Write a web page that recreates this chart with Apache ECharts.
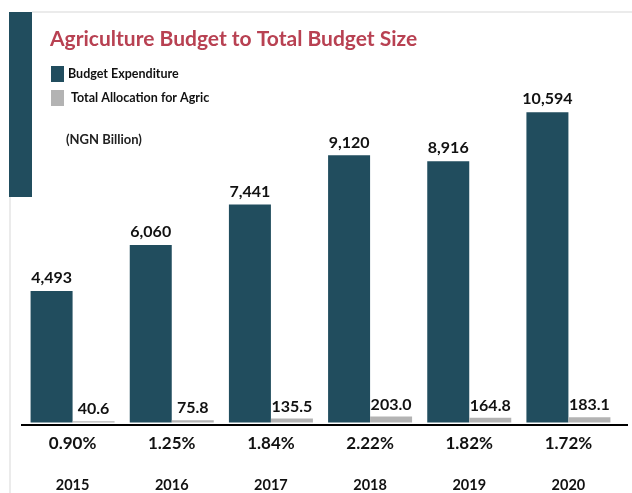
<!DOCTYPE html>
<html><head><meta charset="utf-8">
<script src="https://cdn.jsdelivr.net/npm/echarts@6/dist/echarts.min.js"></script>
<style>html,body{margin:0;padding:0;background:#fff}#c{width:632px;height:493px}</style>
</head><body><div id="c"></div>
<script>
const years = ['2015', '2016', '2017', '2018', '2019', '2020'];
const budgetExpenditure = [4493, 6060, 7441, 9120, 8916, 10594];
const agricAllocation = [40.6, 75.8, 135.5, 203.0, 164.8, 183.1];
const agricShare = ['0.90%', '1.25%', '1.84%', '2.22%', '1.82%', '1.72%'];
const seriesNames = ['Budget Expenditure', ' Total Allocation for Agric'];

const DARK = '#214D5E', GREY = '#B3B3B3', RED = '#B84152';
const FONT = '"Lato", sans-serif';
const chart = echarts.init(document.getElementById('c'));
chart.setOption({
  animation: false,
  backgroundColor: '#fff',
  title: {
    text: 'Agriculture Budget to Total Budget Size',
    left: 45, top: 24,
    textStyle: { color: RED, fontSize: 21, fontWeight: 'bold', fontFamily: FONT }
  },
  legend: {
    orient: 'vertical', left: 46, top: 61, itemWidth: 13, itemHeight: 16, itemGap: 8,
    icon: 'rect', selectedMode: false,
    textStyle: { color: '#111', fontSize: 12.5, fontWeight: 'bold', fontFamily: FONT, padding: [0, 0, 0, -1] },
    data: seriesNames
  },
  grid: { left: 23, right: 14, top: 71, bottom: 68 },
  xAxis: {
    type: 'category', data: years,
    axisLine: { show: false }, axisTick: { show: false },
    axisLabel: {
      margin: 0, interval: 0,
      formatter: (v, i) => `{p|${agricShare[i]}}\n{y|${v}}`,
      rich: {
        p: { fontSize: 17, fontWeight: 'bold', color: '#111', lineHeight: 42, fontFamily: FONT },
        y: { fontSize: 14.5, fontWeight: 'bold', color: '#111', lineHeight: 42, fontFamily: FONT }
      }
    }
  },
  yAxis: { type: 'value', min: 0, max: 12000, show: false, splitLine: { show: false } },
  series: [
    {
      name: seriesNames[0], type: 'bar', data: budgetExpenditure, barWidth: 42, barGap: '0%',
      itemStyle: { color: DARK },
      label: {
        show: true, position: 'top', distance: 5, color: '#111', fontSize: 16, fontWeight: 'bold', fontFamily: FONT,
        formatter: p => p.value.toLocaleString('en-US')
      }
    },
    {
      name: seriesNames[1], type: 'bar', data: agricAllocation, barWidth: 42,
      itemStyle: { color: GREY },
      label: {
        show: true, position: 'top', distance: 4, color: '#111', fontSize: 16, fontWeight: 'bold', fontFamily: FONT,
        formatter: p => p.value.toFixed(1)
      }
    }
  ],
  graphic: [
    { type: 'rect', shape: { x: 9, y: 12, width: 23, height: 185 }, style: { fill: DARK }, silent: true },
    { type: 'line', shape: { x1: 32, y1: 12, x2: 632, y2: 12 }, style: { stroke: '#EBEBEB', lineWidth: 2 }, silent: true },
    { type: 'line', shape: { x1: 10, y1: 197, x2: 10, y2: 493 }, style: { stroke: '#EBEBEB', lineWidth: 2 }, silent: true },
    { type: 'line', shape: { x1: 21, y1: 425, x2: 628, y2: 425 }, style: { stroke: '#000', lineWidth: 2 }, z: 10, silent: true },
    { type: 'text', left: 66, top: 133, style: { text: '(NGN Billion)', fill: '#222', font: 'bold 13px ' + FONT }, silent: true }
  ]
});
</script></body></html>
